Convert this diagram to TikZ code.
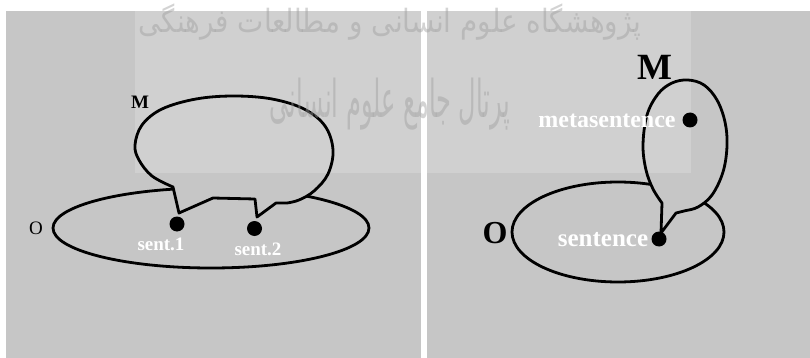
\documentclass[tikz,border=0pt]{standalone}
\usepackage{fontspec}
\setmainfont{Liberation Serif}
\newfontfamily\persianfont[Script=Arabic]{DejaVu Sans}
\TeXXeTstate=1
\definecolor{panel}{HTML}{C6C6C6}
\definecolor{lightpanel}{HTML}{D0D0D0}
\definecolor{wmark}{HTML}{9E9E9E}
\newcommand{\bgrepaint}{%
  \fill[panel] (0,0) rectangle (810,358);
  \fill[lightpanel] (135,11) rectangle (420.5,173);
  \fill[lightpanel] (426.7,11) rectangle (691,173);}
\begin{document}
\begin{tikzpicture}[x=1pt,y=-1pt,
  outline/.style={line width=2.8pt, line join=round, line cap=round},
  balloon/.style={outline, path picture={\bgrepaint}},
  dotnode/.style={circle, fill=black, inner sep=0pt, minimum size=15pt},
  whitelbl/.style={text=white, inner sep=0pt},
  blacklbl/.style={text=black, inner sep=0pt},
  wm/.style={text=wmark, opacity=0.45, inner sep=0pt}]
\useasboundingbox (0,0) rectangle (810,358);
\clip (0,0) rectangle (810,358);
% background
\fill[white] (0,0) rectangle (810,358);
\fill[panel] (6,11) rectangle (420.5,358);
\fill[panel] (426.7,11) rectangle (810,358);
\fill[lightpanel] (135,11) rectangle (420.5,173);
\fill[lightpanel] (426.7,11) rectangle (691,173);
% O sets
\draw[outline] (211,228) ellipse [x radius=158, y radius=40];
\draw[outline] (618,232) ellipse [x radius=106, y radius=50];
% left M balloon
\draw[balloon] plot[smooth, tension=0.6] coordinates {(173,187) (152,176) (139,160) (135,145) (142,125) (162,109) (196,99) (234,96) (272,99) (304,109) (325,126) (333,150) (328,174) (314,191) (299,200) (287,203)}
  -- (276,203) -- (257,217) -- (255,199) -- (213,198) -- (179,213) -- cycle;
% right M balloon
\draw[balloon] plot[smooth, tension=0.6] coordinates {(662,203) (653,189) (646,170) (643,145) (647,115) (658,94) (672,83) (688,80) (704,85) (717,100) (725,122) (727,146) (723,172) (712,195) (698,207) (684,211) (676,213)}
  -- (661,233) -- cycle;
% dots
\node[dotnode] (s1) at (177,224) {};
\node[dotnode] (s2) at (254.5,228.5) {};
\node[dotnode] (sen) at (659,239) {};
\node[dotnode] (meta) at (690,120) {};
% watermark
\node[wm, font=\persianfont\fontsize{32}{32}\selectfont] (wm1) at (390,22) {\scalebox{0.87}[1]{\beginR پژوهشگاه علوم انسانی و مطالعات فرهنگی\endR}};
\node[wm, font=\persianfont\fontsize{40}{40}\selectfont] (wm2) at (390,104) {\scalebox{0.6}[1.3]{\beginR پرتال جامع علوم انسانی\endR}};
% labels
\node[whitelbl, font=\bfseries\fontsize{19}{19}\selectfont] (ls1) at (161,244) {sent.1};
\node[whitelbl, font=\bfseries\fontsize{19}{19}\selectfont] (ls2) at (258,249) {sent.2};
\node[whitelbl, font=\bfseries\fontsize{24}{24}\selectfont] (lmeta) at (607,121) {metasentence};
\node[whitelbl, font=\bfseries\fontsize{25}{25}\selectfont] (lsen) at (603,240) {sentence};
\node[blacklbl, font=\bfseries\fontsize{19}{19}\selectfont] (ML) at (140,102) {M};
\node[blacklbl, font=\fontsize{19}{19}\selectfont] (OL) at (36,228) {O};
\node[blacklbl, font=\bfseries\fontsize{37}{37}\selectfont] (MR) at (655,67) {M};
\node[blacklbl, font=\bfseries\fontsize{32}{32}\selectfont] (OR) at (495,233) {O};
\end{tikzpicture}
\end{document}
